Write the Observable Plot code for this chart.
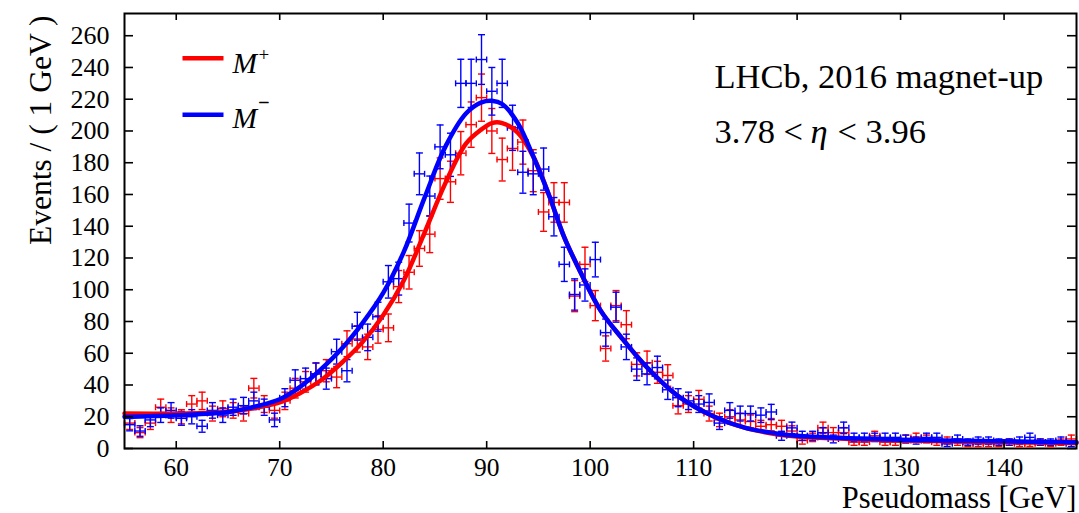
<!DOCTYPE html>
<html><head><meta charset="utf-8">
<script src="https://cdn.jsdelivr.net/npm/d3@7"></script>
<script src="https://cdn.jsdelivr.net/npm/@observablehq/plot@0.6"></script>
<style>body{margin:0;background:#fff} svg{display:block}</style>
</head><body><div id="chart"></div>
<script>
// ---- data ----
const massBins = [55.5,56.5,57.5,58.5,59.5,60.5,61.5,62.5,63.5,64.5,65.5,66.5,67.5,68.5,69.5,70.5,71.5,72.5,73.5,74.5,75.5,76.5,77.5,78.5,79.5,80.5,81.5,82.5,83.5,84.5,85.5,86.5,87.5,88.5,89.5,90.5,91.5,92.5,93.5,94.5,95.5,96.5,97.5,98.5,99.5,100.5,101.5,102.5,103.5,104.5,105.5,106.5,107.5,108.5,109.5,110.5,111.5,112.5,113.5,114.5,115.5,116.5,117.5,118.5,119.5,120.5,121.5,122.5,123.5,124.5,125.5,126.5,127.5,128.5,129.5,130.5,131.5,132.5,133.5,134.5,135.5,136.5,137.5,138.5,139.5,140.5,141.5,142.5,143.5,144.5,145.5,146.5];
const eventsPlus = [16,10,16,26,21,20,28,30,22,25,24,22,38,28,24,30,38,42,47,49,45,66,69,64,75,76,102,111,126,135,170,168,186,204,221,200,182,189,193,175,149,155,155,96,116,90,63,90,78,53,54,48,46,27,28,31,22,18,20,18,17,14,15,14,11,5,7,13,10,10,4,4,8,4,4,6,7,6,4,5,4,3,3,3,3,4,3,3,4,3,4,6];
const eventsMinus = [15,11,18,21,24,19,20,14,24,21,26,27,30,26,18,32,43,44,47,44,61,49,77,70,83,105,107,142,173,159,190,185,230,230,245,225,230,202,174,173,176,146,116,97,103,119,73,89,64,50,47,51,37,32,30,28,29,16,24,22,22,21,23,8,13,8,8,10,6,13,7,7,7,7,7,6,5,7,7,3,6,4,5,5,4,4,5,7,4,4,5,3];
// fit curves
const fitMass  = [55,60,65,68,70,72,74,76,78,80,82,84,86,88,89.5,90.5,91.5,93,94.5,96,97.5,99,101,103,105.5,108.5,112,115,118,120,125,130,140,147];
const fitPlus  = [22,22,23,26,29,35,43,54,67,84,106,136,167,192,201,205,205,199,184,160,133,112,87,70,51,33,20,13,9,7.5,6,5,4,3.5];
const fitMinus = [20,21,23,27,31,39,50,63,79,98,124,158,190,211,218,219,217,205,184,160,133,112,87,70,51,33,20,13,9.5,8,6.5,5.5,4.5,4];
const xTicks = [60,70,80,90,100,110,120,130,140];
const yTicks = [0,20,40,60,80,100,120,140,160,180,200,220,240,260];
const xTitle = "Pseudomass [GeV]";
const yTitle = "Events / ( 1 GeV )";
const noteLine1 = "LHCb, 2016 magnet-up";
const noteA = "3.78 <", noteEta = "η", noteB = "< 3.96";
const RED = "#ff0000", BLUE = "#0000ff";

// ---- layout ----
const W = 1079, H = 513, mL = 124, mR = 3, mT = 13, mB = 65;
const innerW = W - mL - mR, innerH = H - mT - mB;
const FONT = "'Liberation Serif','Times New Roman',Times,serif";

const rows = (vals) => massBins.map((x, i) => ({x, v: vals[i], e: Math.sqrt(vals[i])}));
const plusRows = rows(eventsPlus), minusRows = rows(eventsMinus);
const fitRows = (vals) => fitMass.map((x, i) => ({x, v: vals[i]}));

const hcap = {draw(ctx) { ctx.moveTo(-3.5, 0); ctx.lineTo(3.5, 0); }};
const vcap = {draw(ctx) { ctx.moveTo(0, -3); ctx.lineTo(0, 3); }};
const legLine = {draw(ctx) { ctx.moveTo(-20.5, 0); ctx.lineTo(20.5, 0); }};

function errMarks(data, c) {
  const sw = 1.4;
  return [
    Plot.ruleX(data, {x: "x", y1: d => d.v - d.e, y2: d => d.v + d.e, stroke: c, strokeWidth: sw}),
    Plot.ruleY(data, {y: "v", x1: d => d.x - 0.5, x2: d => d.x + 0.5, stroke: c, strokeWidth: sw}),
    Plot.dot(data, {x: "x", y: d => d.v + d.e, symbol: hcap, fill: "none", stroke: c, strokeWidth: sw}),
    Plot.dot(data, {x: "x", y: d => d.v - d.e, symbol: hcap, fill: "none", stroke: c, strokeWidth: sw}),
    Plot.dot(data, {x: d => d.x - 0.5, y: "v", symbol: vcap, fill: "none", stroke: c, strokeWidth: sw}),
    Plot.dot(data, {x: d => d.x + 0.5, y: "v", symbol: vcap, fill: "none", stroke: c, strokeWidth: sw})
  ];
}

const txt = (s, o) => Plot.text([s], {text: d => d, frameAnchor: "top-left", textAnchor: "start", lineAnchor: "bottom", fill: "black", ...o});

const chart = Plot.plot({
  width: W, height: H,
  marginLeft: mL, marginRight: mR, marginTop: mT, marginBottom: mB,
  style: {fontFamily: FONT, fontSize: "25px", background: "white", color: "black", overflow: "visible"},
  x: {domain: [55, 147]},
  y: {domain: [0, 274]},
  marks: [
    ...errMarks(plusRows, RED),
    ...errMarks(minusRows, BLUE),
    Plot.line(fitRows(fitPlus), {x: "x", y: "v", stroke: RED, strokeWidth: 4.5, curve: "catmull-rom"}),
    Plot.line(fitRows(fitMinus), {x: "x", y: "v", stroke: BLUE, strokeWidth: 4.5, curve: "catmull-rom"}),
    // ticks pointing inward on all four sides
    Plot.tickX(xTicks, {x: d => d, insetTop: innerH - 7, stroke: "black", strokeWidth: 1.6}),
    Plot.tickX(xTicks, {x: d => d, insetBottom: innerH - 7, stroke: "black", strokeWidth: 1.6}),
    Plot.tickY(yTicks, {y: d => d, insetRight: innerW - 9, stroke: "black", strokeWidth: 1.6}),
    Plot.tickY(yTicks, {y: d => d, insetLeft: innerW - 9, stroke: "black", strokeWidth: 1.6}),
    Plot.axisX({ticks: xTicks, tickSize: 0, tickPadding: 9, label: null, fontSize: 25.5}),
    Plot.axisY({ticks: yTicks, tickSize: 0, tickPadding: 15, label: null, fontSize: 26}),
    Plot.frame({stroke: "black", strokeWidth: 2}),
    // axis titles
    Plot.text([yTitle], {text: d => d, frameAnchor: "top-left", rotate: -90, textAnchor: "end", lineAnchor: "middle", dx: -84, dy: 2, fontSize: 31.5, fill: "black"}),
    Plot.text([xTitle], {text: d => d, frameAnchor: "bottom-right", textAnchor: "end", lineAnchor: "bottom", dy: 59, fontSize: 30.5, fill: "black"}),
    // legend
    Plot.dot([0], {frameAnchor: "top-left", dx: 78.5, dy: 44.7, symbol: legLine, fill: "none", stroke: RED, strokeWidth: 4.5}),
    Plot.dot([0], {frameAnchor: "top-left", dx: 78.5, dy: 101.3, symbol: legLine, fill: "none", stroke: BLUE, strokeWidth: 4.5}),
    txt("M", {dx: 108, dy: 59, fontSize: 29.5, fontStyle: "italic"}),
    txt("+", {dx: 134, dy: 47, fontSize: 19}),
    txt("M", {dx: 108, dy: 114, fontSize: 29.5, fontStyle: "italic"}),
    txt("\u2212", {dx: 134, dy: 95, fontSize: 19, stroke: "black", strokeWidth: 0.6}),
    // annotation
    txt(noteLine1, {dx: 590, dy: 74, fontSize: 34.5}),
    txt(noteA, {dx: 590, dy: 129, fontSize: 34.5}),
    txt(noteEta, {dx: 686, dy: 129, fontSize: 34.5, fontStyle: "italic"}),
    txt(noteB, {dx: 713, dy: 129, fontSize: 34.5})
  ]
});
document.getElementById("chart").appendChild(chart);
</script>
</body></html>
